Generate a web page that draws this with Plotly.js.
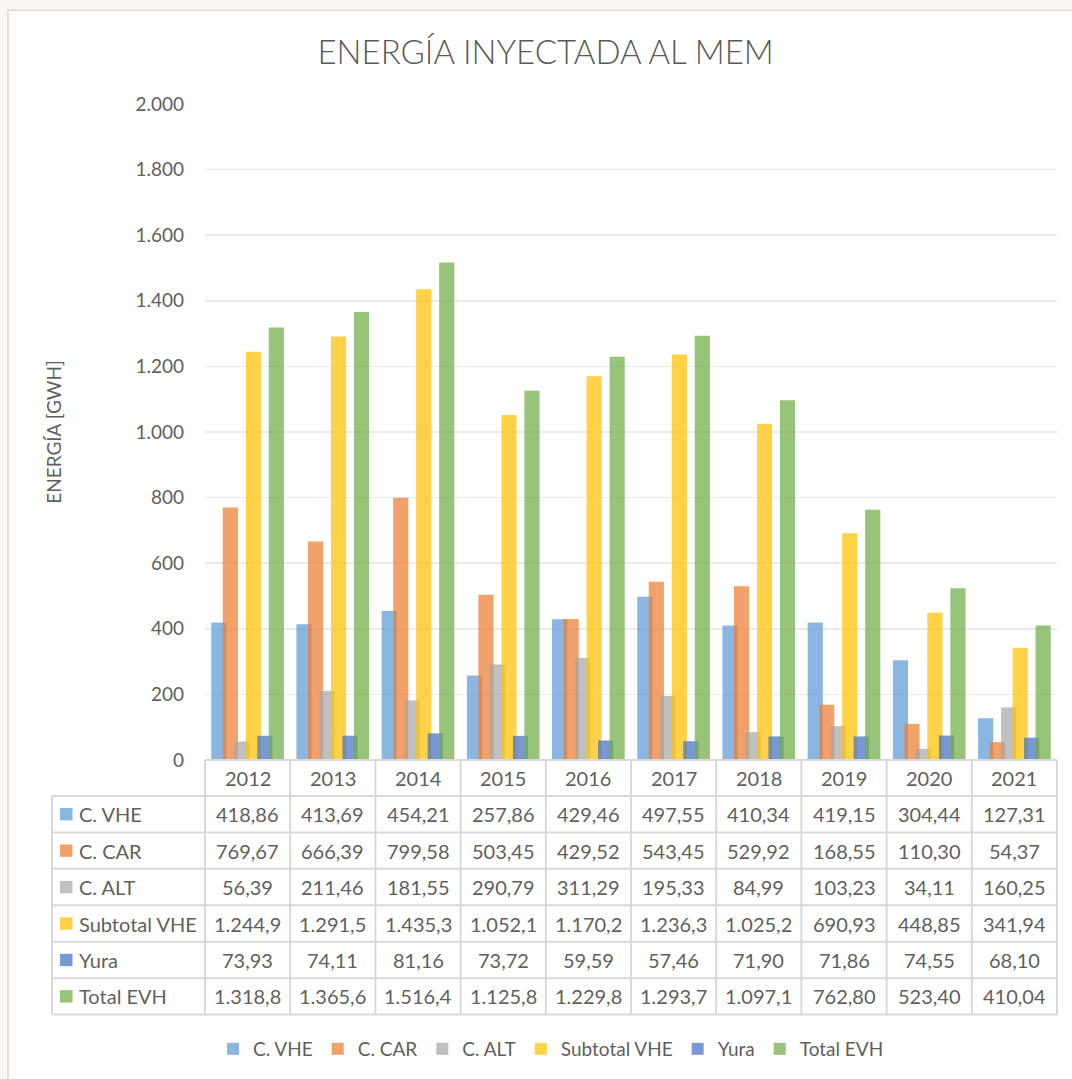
<!DOCTYPE html>
<html>
<head>
<meta charset="utf-8">
<script src="https://cdn.plot.ly/plotly-3.0.1.min.js"></script>
<style>html,body{margin:0;padding:0;background:#FAF7F4;}#chart{width:1072px;height:1079px;}</style>
</head>
<body>
<div id="chart"></div>
<script>
// ---- data ----
const years = ['2012','2013','2014','2015','2016','2017','2018','2019','2020','2021'];
const seriesNames = ['C. VHE','C. CAR','C. ALT','Subtotal VHE','Yura','Total EVH'];
const cVHE = [418.86, 413.69, 454.21, 257.86, 429.46, 497.55, 410.34, 419.15, 304.44, 127.31];
const cCAR = [769.67, 666.39, 799.58, 503.45, 429.52, 543.45, 529.92, 168.55, 110.30, 54.37];
const cALT = [56.39, 211.46, 181.55, 290.79, 311.29, 195.33, 84.99, 103.23, 34.11, 160.25];
const subtotalVHE = [1244.9, 1291.5, 1435.3, 1052.1, 1170.2, 1236.3, 1025.2, 690.93, 448.85, 341.94];
const yura = [73.93, 74.11, 81.16, 73.72, 59.59, 57.46, 71.90, 71.86, 74.55, 68.10];
const totalEVH = [1318.8, 1365.6, 1516.4, 1125.8, 1229.8, 1293.7, 1097.1, 762.80, 523.40, 410.04];
const yTicks = [0, 200, 400, 600, 800, 1000, 1200, 1400, 1600, 1800, 2000];

// ---- styles ----
const colors = ['rgba(91,155,213,0.72)','rgba(237,125,49,0.72)','rgba(165,165,165,0.7)',
                'rgba(255,192,0,0.72)','rgba(68,114,196,0.72)','rgba(112,173,71,0.72)'];
const FONT = 'Lato, "Open Sans", sans-serif';
const TXT = '#5f5f5f';
const L = 205, R = 15, T = 104, B = 318, W = 1072, H = 1079;
const PW = W - L - R, PH = H - T - B, Y0 = H - B;
const px2x = p => (p - L) / PW;
const px2y = p => (Y0 - p) / PH;

const allSeries = [cVHE, cCAR, cALT, subtotalVHE, yura, totalEVH];

function fmt(v) {
  const dec = v >= 1000 ? 1 : 2;
  let s = v.toFixed(dec);
  let [ip, fp] = s.split('.');
  ip = ip.replace(/\B(?=(\d{3})+(?!\d))/g, '.');
  return ip + ',' + fp;
}

const barW = 0.178, step = 0.135;
const start = -(5 * step + barW) / 2;

const traces = allSeries.map((vals, k) => ({
  type: 'bar',
  name: seriesNames[k],
  x: years,
  y: vals,
  width: barW,
  offset: start + k * step,
  marker: {color: colors[k], line: {width: 0}},
  hoverinfo: 'x+y+name'
}));

const shapes = [];
const annotations = [];

// chart frame
shapes.push({type:'rect', xref:'paper', yref:'paper', layer:'below',
  x0: px2x(8), x1: px2x(1090), y0: px2y(1095), y1: px2y(10),
  fillcolor:'#FFFFFF', line:{color:'#D9D9D9', width:1.5}});

// table grid
const lineC = {color:'#D9D9D9', width:2};
const headerTop = Y0, headerBot = 797, rowH = 36.5;
shapes.push({type:'line', xref:'paper', yref:'paper', x0:0, x1:1, y0:px2y(headerTop), y1:px2y(headerTop), line:lineC});
for (let r = 0; r <= seriesNames.length; r++) {
  const yy = headerBot + r * rowH;
  shapes.push({type:'line', xref:'paper', yref:'paper', x0:px2x(52), x1:1, y0:px2y(yy), y1:px2y(yy), line:lineC});
}
const tableBot = headerBot + seriesNames.length * rowH;
shapes.push({type:'line', xref:'paper', yref:'paper', x0:px2x(52), x1:px2x(52), y0:px2y(headerBot), y1:px2y(tableBot), line:lineC});
for (let k = 0; k <= years.length; k++) {
  const xx = k / years.length;
  shapes.push({type:'line', xref:'paper', yref:'paper', x0:xx, x1:xx, y0:px2y(headerTop), y1:px2y(tableBot), line:lineC});
}

// header years (x = category index on the category axis)
years.forEach((yr, i) => {
  annotations.push({xref:'x', yref:'paper', x: i, y: px2y((headerTop + headerBot) / 2),
    text: yr, showarrow:false, font:{family:FONT, size:20, color:TXT}, xanchor:'center', yanchor:'middle'});
});

// rows
allSeries.forEach((vals, r) => {
  const cy = headerBot + rowH * (r + 0.5);
  shapes.push({type:'rect', xref:'paper', yref:'paper',
    x0: px2x(60), x1: px2x(72.5), y0: px2y(cy + 6.2), y1: px2y(cy - 6.2),
    fillcolor: colors[r], line:{width:0}});
  annotations.push({xref:'paper', yref:'paper', x: px2x(77), y: px2y(cy), text: seriesNames[r],
    showarrow:false, xanchor:'left', yanchor:'middle', font:{family:FONT, size:20, color:TXT}});
  vals.forEach((v, i) => {
    annotations.push({xref:'x', yref:'paper', x: i, y: px2y(cy), text: fmt(v),
      showarrow:false, xanchor:'center', yanchor:'middle', font:{family:FONT, size:20, color:TXT}});
  });
});

const layout = {
  width: W, height: H,
  margin: {l:L, r:R, t:T, b:B, pad:0},
  paper_bgcolor: '#FAF7F4',
  plot_bgcolor: 'rgba(0,0,0,0)',
  separators: ',.',
  font: {family: FONT, color: TXT},
  title: {text: 'ENERGÍA INYECTADA AL MEM', x: 0.509, xref:'container', xanchor:'center',
          y: 1 - 52 / H, yref:'container', yanchor:'middle',
          font: {family: FONT, size: 33, weight: 300, color: '#595959'}},
  barmode: 'overlay',
  showlegend: true,
  legend: {orientation:'h', x: px2x(551), xanchor:'center', y: px2y(1049), yanchor:'middle',
           font:{family:FONT, size:19, color:TXT}, bgcolor:'rgba(0,0,0,0)', itemwidth:30,
           traceorder:'normal'},
  xaxis: {type:'category', showticklabels:false, showgrid:false, zeroline:false, showline:false,
          ticks:'', range:[-0.5, years.length - 0.5], fixedrange:true},
  yaxis: {range:[0, 2000], tickvals: yTicks, tickformat:',.0f', showgrid:true,
          gridcolor:'#EBEBEB', gridwidth:1.5, zeroline:false, showline:false, ticks:'',
          ticklabelstandoff: 20,
          tickfont:{family:FONT, size:19, color:TXT},
          title:{text:'ENERGÍA [GWH]', standoff: 68, font:{family:FONT, size:19, color:TXT}},
          fixedrange:true},
  shapes: shapes,
  annotations: annotations
};

Plotly.newPlot('chart', traces, layout, {displayModeBar:false, staticPlot:true});
</script>
</body>
</html>
